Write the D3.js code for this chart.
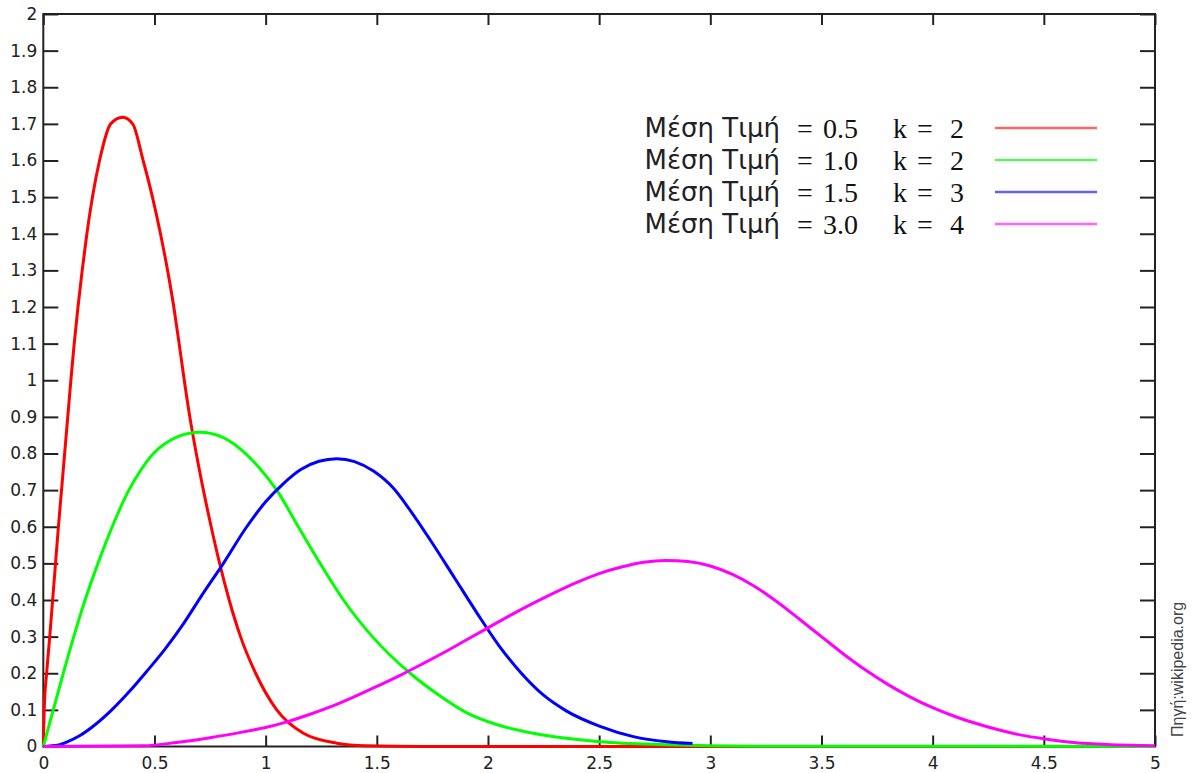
<!DOCTYPE html>
<html>
<head>
<meta charset="utf-8">
<script src="https://cdn.jsdelivr.net/npm/d3@7"></script>
<style>
  body { margin: 0; background: #fff; }
  svg { display: block; }
</style>
</head>
<body>
<svg id="chart" width="1197" height="773"></svg>
<script>
  // Curves: [x, density]
  const curveMean05k2 = [
    [0, 0], [0.004, 0.1], [0.015, 0.2], [0.029, 0.3], [0.042, 0.4], [0.055, 0.5],
    [0.068, 0.6], [0.082, 0.7], [0.096, 0.8], [0.11, 0.9], [0.124, 1.0], [0.139, 1.1],
    [0.156, 1.2], [0.175, 1.3], [0.196, 1.4], [0.221, 1.5], [0.253, 1.6], [0.303, 1.7],
    [0.357, 1.718], [0.402, 1.7], [0.449, 1.6], [0.491, 1.5], [0.527, 1.4], [0.559, 1.3],
    [0.587, 1.2], [0.611, 1.1], [0.634, 1.0], [0.659, 0.9], [0.688, 0.8], [0.72, 0.7],
    [0.755, 0.6], [0.793, 0.5], [0.836, 0.4], [0.887, 0.3], [0.955, 0.2], [1.05, 0.1],
    [1.17, 0.036], [1.32, 0.009], [1.45, 0.002], [1.7, 0], [5, 0]
  ];
  const curveMean10k2 = [
    [0, 0], [0.045, 0.1], [0.09, 0.2], [0.137, 0.3], [0.188, 0.4], [0.246, 0.5],
    [0.31, 0.6], [0.385, 0.7], [0.44, 0.756], [0.495, 0.8], [0.55, 0.828], [0.6, 0.845],
    [0.705, 0.858], [0.8, 0.846], [0.885, 0.813], [0.97, 0.762], [1.05, 0.7], [1.147, 0.6],
    [1.245, 0.5], [1.35, 0.4], [1.48, 0.3], [1.65, 0.2], [1.78, 0.14], [1.905, 0.092],
    [2.05, 0.058], [2.204, 0.036], [2.504, 0.013], [2.8, 0.005], [3.2, 0.001], [5, 0]
  ];
  const curveMean15k3 = [
    [0, 0], [0.07, 0.004], [0.105, 0.012], [0.165, 0.03], [0.23, 0.058], [0.308, 0.1],
    [0.39, 0.152], [0.465, 0.205], [0.55, 0.268], [0.63, 0.335], [0.71, 0.41], [0.81, 0.5],
    [0.915, 0.6], [1.0, 0.668], [1.08, 0.718], [1.16, 0.757], [1.24, 0.779], [1.32, 0.786],
    [1.4, 0.778], [1.485, 0.752], [1.575, 0.705], [1.65, 0.645], [1.75, 0.555],
    [1.85, 0.46], [1.95, 0.365], [2.05, 0.275], [2.15, 0.2], [2.25, 0.14], [2.35, 0.098],
    [2.504, 0.055], [2.654, 0.027], [2.804, 0.013], [2.92, 0.008]
  ];
  const curveMean30k4 = [
    [0, 0], [0.45, 0.002], [0.6, 0.011], [0.75, 0.024], [0.9, 0.04], [1.0, 0.052],
    [1.1, 0.068], [1.2, 0.088], [1.3, 0.11], [1.4, 0.136], [1.5, 0.164], [1.6, 0.193],
    [1.7, 0.224], [1.8, 0.256], [1.9, 0.29], [2.0, 0.324], [2.1, 0.358], [2.2, 0.39],
    [2.3, 0.42], [2.4, 0.448], [2.5, 0.472], [2.6, 0.49], [2.7, 0.503], [2.8, 0.508],
    [2.9, 0.505], [3.0, 0.493], [3.1, 0.47], [3.2, 0.437], [3.3, 0.395], [3.4, 0.348],
    [3.5, 0.3], [3.6, 0.252], [3.7, 0.208], [3.8, 0.169], [3.9, 0.135], [4.0, 0.106],
    [4.1, 0.082], [4.2, 0.062], [4.3, 0.045], [4.4, 0.031], [4.5, 0.021], [4.6, 0.013],
    [4.7, 0.008], [4.8, 0.005], [5, 0.002]
  ];

  const seriesData = [curveMean05k2, curveMean10k2, curveMean15k3, curveMean30k4];
  const seriesColors = ["#ff0000", "#00ff00", "#0000ff", "#ff00ff"];
  const legendColors = ["#ff6464", "#64f064", "#6464f0", "#ff64ff"];
  const legendLabel = "Μέση Τιμή";
  const legendMeans = ["0.5", "1.0", "1.5", "3.0"];
  const legendK = ["2", "2", "3", "4"];

  const xTicks = [0, 0.5, 1, 1.5, 2, 2.5, 3, 3.5, 4, 4.5, 5];
  const yTicks = [0, 0.1, 0.2, 0.3, 0.4, 0.5, 0.6, 0.7, 0.8, 0.9, 1,
                  1.1, 1.2, 1.3, 1.4, 1.5, 1.6, 1.7, 1.8, 1.9, 2];
  const sourceText = "Πηγή:wikipedia.org";

  // Chart dimensions
  const width = 1197;
  const height = 773;
  const marginTop = 14;
  const marginRight = 42;
  const marginBottom = 26.5;
  const marginLeft = 43.3;

  const x = d3.scaleLinear().domain([0, 5]).range([marginLeft, width - marginRight]);
  const y = d3.scaleLinear().domain([0, 2]).range([height - marginBottom, marginTop]);

  const svg = d3.select("#chart");
  const fmt = d3.format("~g");

  // Axes with inner ticks on all four sides
  const axisStyle = (g) => {
    g.select(".domain").remove();
    g.selectAll(".tick line").attr("stroke", "#222").attr("stroke-width", 2);
    g.selectAll(".tick text")
      .attr("fill", "#222")
      .style("font-family", "DejaVu Sans, sans-serif")
      .style("font-size", "17px");
  };

  svg.append("g")
    .attr("transform", `translate(0,${height - marginBottom})`)
    .call(d3.axisBottom(x).tickValues(xTicks).tickSize(-11).tickPadding(10).tickFormat(fmt))
    .call(axisStyle);

  svg.append("g")
    .attr("transform", `translate(0,${marginTop})`)
    .call(d3.axisTop(x).tickValues(xTicks).tickSize(-11).tickFormat(""))
    .call(axisStyle);

  svg.append("g")
    .attr("transform", `translate(${marginLeft},0)`)
    .call(d3.axisLeft(y).tickValues(yTicks).tickSize(-15).tickPadding(6).tickFormat(fmt))
    .call(axisStyle);

  svg.append("g")
    .attr("transform", `translate(${width - marginRight},0)`)
    .call(d3.axisRight(y).tickValues(yTicks).tickSize(-15).tickFormat(""))
    .call(axisStyle);

  // Frame
  svg.append("rect")
    .attr("x", marginLeft)
    .attr("y", marginTop)
    .attr("width", width - marginRight - marginLeft)
    .attr("height", height - marginBottom - marginTop)
    .attr("fill", "none")
    .attr("stroke", "#222")
    .attr("stroke-width", 2);

  // Curves
  const line = d3.line()
    .x((d) => x(d[0]))
    .y((d) => y(d[1]))
    .curve(d3.curveMonotoneX);

  svg.append("g")
    .selectAll("path")
    .data(seriesData)
    .enter()
    .append("path")
    .attr("fill", "none")
    .attr("stroke", (d, i) => seriesColors[i])
    .attr("stroke-width", 3)
    .attr("stroke-linejoin", "round")
    .attr("d", line);

  // Legend
  const legend = svg.append("g");
  legendMeans.forEach((m, i) => {
    const ly = 128 + i * 32;
    legend.append("text")
      .attr("x", 780).attr("y", ly + 9)
      .attr("text-anchor", "end")
      .attr("fill", "#222")
      .style("font-family", "DejaVu Sans, sans-serif")
      .style("font-size", "26px")
      .text(legendLabel);
    const serif = [["=", 797], [m, 823], ["k", 893], ["=", 917], [legendK[i], 950]];
    serif.forEach(([t, tx]) => {
      legend.append("text")
        .attr("x", tx).attr("y", ly + 10)
        .attr("fill", "#111")
        .style("font-family", "Liberation Serif, serif")
        .style("font-size", "28px")
        .text(t);
    });
    legend.append("line")
      .attr("x1", 995).attr("x2", 1097)
      .attr("y1", ly).attr("y2", ly)
      .attr("stroke", legendColors[i])
      .attr("stroke-width", 2.5);
  });

  // Source note, rotated
  svg.append("text")
    .attr("transform", "translate(1183,737) rotate(-90)")
    .attr("fill", "#444")
    .style("font-family", "Liberation Sans, sans-serif")
    .style("font-size", "16px")
    .text(sourceText);
</script>
</body>
</html>
